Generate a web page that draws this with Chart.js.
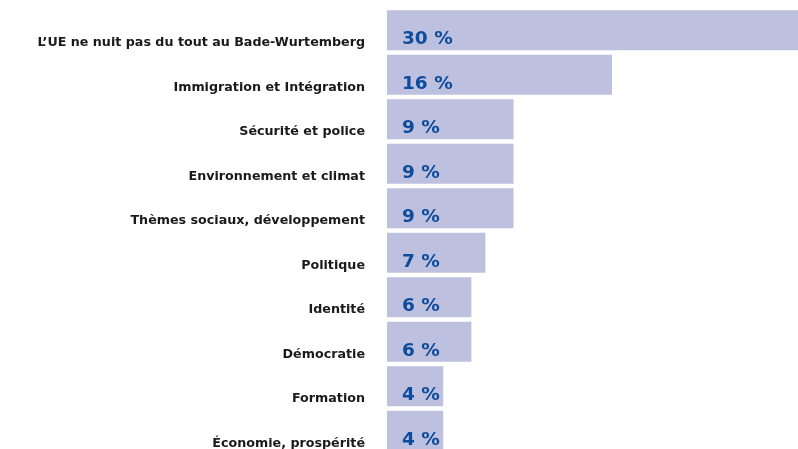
<!DOCTYPE html>
<html>
<head>
<meta charset="utf-8">
<script src="https://cdn.jsdelivr.net/npm/chart.js@4"></script>
<style>
  html, body { margin: 0; padding: 0; overflow: hidden; background: #fff; }
  #wrap { position: relative; width: 798px; height: 453px; }
</style>
</head>
<body>
<div id="wrap"><canvas id="myChart"></canvas></div>
<script>
var categories = [
    'L\u2019UE ne nuit pas du tout au Bade-Wurtemberg',
    'Immigration et Intégration',
    'Sécurité et police',
    'Environnement et climat',
    'Thèmes sociaux, développement',
    'Politique',
    'Identité',
    'Démocratie',
    'Formation',
    'Économie, prospérité'
];
var values = [30, 16, 9, 9, 9, 7, 6, 6, 4, 4];

// libellés des catégories et valeurs dessinés à la main
var textLabels = {
    id: 'textLabels',
    afterDatasetsDraw: function (chart) {
        var ctx = chart.ctx;
        var meta = chart.getDatasetMeta(0);
        ctx.save();
        ctx.textBaseline = 'alphabetic';
        meta.data.forEach(function (bar, i) {
            // catégorie
            ctx.font = 'bold 12.7px "DejaVu Sans", sans-serif';
            ctx.fillStyle = '#1a1a1a';
            ctx.textAlign = 'right';
            ctx.fillText(categories[i], bar.base - 22, bar.y + 16);
            // valeur
            ctx.font = 'bold 18.5px "DejaVu Sans", sans-serif';
            ctx.fillStyle = '#0d4b9c';
            ctx.textAlign = 'left';
            ctx.fillText(values[i] + ' %', bar.base + 15, bar.y + 14);
        });
        ctx.restore();
    }
};

var ctx = document.getElementById('myChart').getContext('2d');

var myChart = new Chart(ctx, {
    type: 'bar',
    data: {
        labels: categories,
        datasets: [{
            data: values,
            backgroundColor: '#bec0df',
            borderWidth: 0,
            categoryPercentage: 1,
            barPercentage: 0.9
        }]
    },
    options: {
        indexAxis: 'y',
        responsive: true,
        maintainAspectRatio: false,
        animation: false,
        layout: {
            padding: { top: 8, right: 0, bottom: 0, left: 0 }
        },
        scales: {
            x: {
                display: false,
                min: 0,
                max: 29.23
            },
            y: {
                afterFit: function (scale) { scale.width = 387; },
                grid: { display: false },
                border: { display: false },
                ticks: { display: false }
            }
        },
        plugins: {
            legend: { display: false },
            tooltip: { enabled: false }
        }
    },
    plugins: [textLabels]
});
</script>
</body>
</html>
